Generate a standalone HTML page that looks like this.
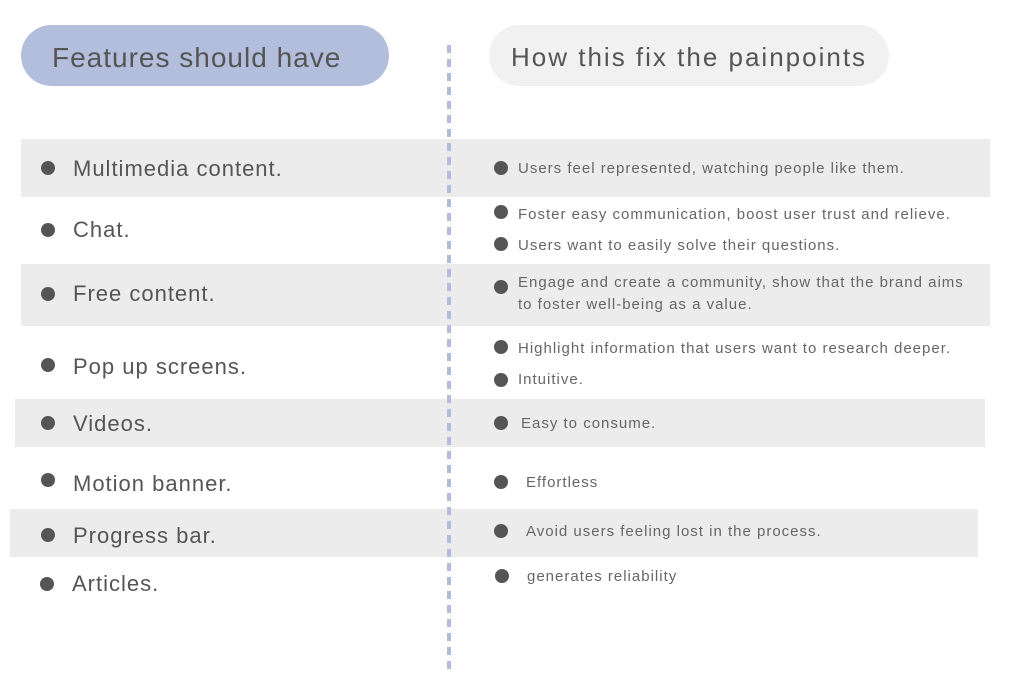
<!DOCTYPE html>
<html><head><meta charset="utf-8"><style>
body{margin:0;width:1024px;height:699px;background:#fff;position:relative;overflow:hidden;font-family:"Liberation Sans",sans-serif}
.band{position:absolute;background:#ebeceb}
.pill{position:absolute;border-radius:31px;color:#555;line-height:61px}
.t{position:absolute;white-space:nowrap;color:#555;font-size:22px;line-height:30px;letter-spacing:1px}
.r{position:absolute;white-space:nowrap;color:#666;font-size:15px;line-height:22px;letter-spacing:1px}
.d{position:absolute;width:14px;height:14px;border-radius:50%;background:#555}
.dash{position:absolute;left:447px;top:45px;width:4px;height:625px;background:repeating-linear-gradient(to bottom,#b3bcdc 0 8px,transparent 8px 14px)}
</style></head><body>
<div class="band" style="left:21px;top:139px;width:969px;height:58px"></div>
<div class="band" style="left:21px;top:264px;width:969px;height:62px"></div>
<div class="band" style="left:15px;top:399px;width:970px;height:48px"></div>
<div class="band" style="left:10px;top:509px;width:968px;height:48px"></div>
<div class="pill" style="left:21px;top:25px;width:368px;height:61px;background:#b3bddc"><span style="position:absolute;left:31px;top:2px;font-size:28px;letter-spacing:1px">Features should have</span></div>
<div class="pill" style="left:489px;top:25px;width:400px;height:61px;background:#f1f1f1"><span style="position:absolute;left:22px;top:2px;font-size:26px;letter-spacing:2px">How this fix the painpoints</span></div>
<div class="dash"></div>

<div class="d" style="left:41px;top:161px"></div><div class="t" style="left:73px;top:154px">Multimedia content.</div>
<div class="d" style="left:41px;top:223px"></div><div class="t" style="left:73px;top:215px">Chat.</div>
<div class="d" style="left:41px;top:287px"></div><div class="t" style="left:73px;top:279px">Free content.</div>
<div class="d" style="left:41px;top:358px"></div><div class="t" style="left:73px;top:352px">Pop up screens.</div>
<div class="d" style="left:41px;top:416px"></div><div class="t" style="left:73px;top:409px">Videos.</div>
<div class="d" style="left:41px;top:473px"></div><div class="t" style="left:73px;top:469px">Motion banner.</div>
<div class="d" style="left:41px;top:528px"></div><div class="t" style="left:73px;top:521px">Progress bar.</div>
<div class="d" style="left:40px;top:577px"></div><div class="t" style="left:72px;top:569px">Articles.</div>

<div class="d" style="left:494px;top:161px"></div><div class="r" style="left:518px;top:158px">Users feel represented, watching people like them.</div>
<div class="d" style="left:494px;top:205px"></div><div class="r" style="left:518px;top:204px">Foster easy communication, boost user trust and relieve.</div>
<div class="d" style="left:494px;top:237px"></div><div class="r" style="left:518px;top:235px">Users want to easily solve their questions.</div>
<div class="d" style="left:494px;top:280px"></div><div class="r" style="left:518px;top:272px">Engage and create a community, show that the brand aims</div>
<div class="r" style="left:518px;top:294px">to foster well-being as a value.</div>
<div class="d" style="left:494px;top:340px"></div><div class="r" style="left:518px;top:338px">Highlight information that users want to research deeper.</div>
<div class="d" style="left:494px;top:373px"></div><div class="r" style="left:518px;top:369px">Intuitive.</div>
<div class="d" style="left:494px;top:416px"></div><div class="r" style="left:521px;top:413px">Easy to consume.</div>
<div class="d" style="left:494px;top:475px"></div><div class="r" style="left:526px;top:472px">Effortless</div>
<div class="d" style="left:494px;top:524px"></div><div class="r" style="left:526px;top:521px">Avoid users feeling lost in the process.</div>
<div class="d" style="left:495px;top:569px"></div><div class="r" style="left:527px;top:566px">generates reliability</div>
</body></html>
